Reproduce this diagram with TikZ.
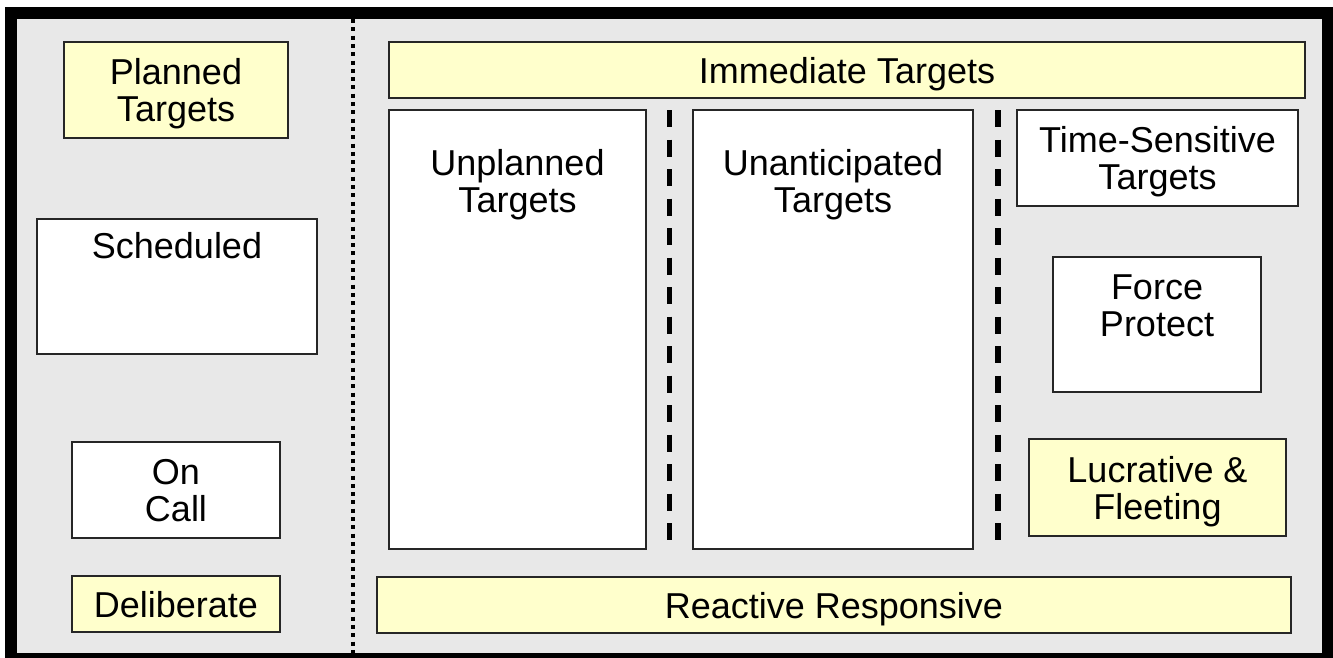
\documentclass[tikz,border=0pt]{standalone}
\usepackage{fontspec}
\setmainfont{Liberation Sans}
\usetikzlibrary{positioning}
\definecolor{bggrey}{RGB}{232,232,232}
\definecolor{paleyellow}{RGB}{255,255,204}

\begin{document}
\begin{tikzpicture}[x=1pt, y=-1pt,
	every node/.style={shape=rectangle, align=center, font=\fontsize{36}{37}\selectfont, text depth=0pt},
	box/.style={draw=black!85, line width=1.5pt, fill=white, inner sep=0pt},
	ybox/.style={box, fill=paleyellow},
	txt/.style={inner sep=0pt},
	dotsep/.style={line width=4pt, dash pattern=on 4pt off 4.3pt},
	dashsep/.style={line width=5.5pt, dash pattern=on 17pt off 12.5pt}]
	\useasboundingbox (0,0) rectangle (1333,657);
	\draw[line width=12pt, fill=bggrey] (11,13) rectangle (1328,659);
	\draw[dotsep] (353,19) -- (353,653);

	\node[ybox, minimum width=224, minimum height=96] (planned) at (176,90) {Planned\\Targets};
	\node[box, minimum width=280, minimum height=135] (scheduled) at (177,286.5) {};
	\node[txt, below=14pt of scheduled.north] (scheduled text) {Scheduled};
	\node[box, minimum width=208, minimum height=96] (oncall) at (176,490) {On\\Call};
	\node[ybox, minimum width=208, minimum height=56] (deliberate) at (176,604) {Deliberate};

	\node[ybox, minimum width=916, minimum height=56] (immediate) at (847,70) {Immediate Targets};
	\node[box, minimum width=257, minimum height=439] (unplanned) at (517.5,329.5) {};
	\node[txt, below=40pt of unplanned.north] (unplanned text) {Unplanned\\Targets};
	\node[box, minimum width=280, minimum height=439] (unanticipated) at (833,329.5) {};
	\node[txt, below=40pt of unanticipated.north] (unanticipated text) {Unanticipated\\Targets};
	\node[box, minimum width=281, minimum height=96] (tst) at (1157.5,158) {Time-Sensitive\\Targets};
	\node[box, minimum width=208, minimum height=135] (force) at (1157,324.5) {};
	\node[txt, below=18pt of force.north] (force text) {Force\\Protect};
	\node[ybox, minimum width=257, minimum height=97] (lucrative) at (1157.5,487.5) {Lucrative \&\\Fleeting};
	\node[ybox, minimum width=914, minimum height=56] (reactive) at (834,605) {Reactive Responsive};

	\draw[dashsep] (669.5,110) -- (669.5,549);
	\draw[dashsep] (998,110) -- (998,549);
\end{tikzpicture}
\end{document}
